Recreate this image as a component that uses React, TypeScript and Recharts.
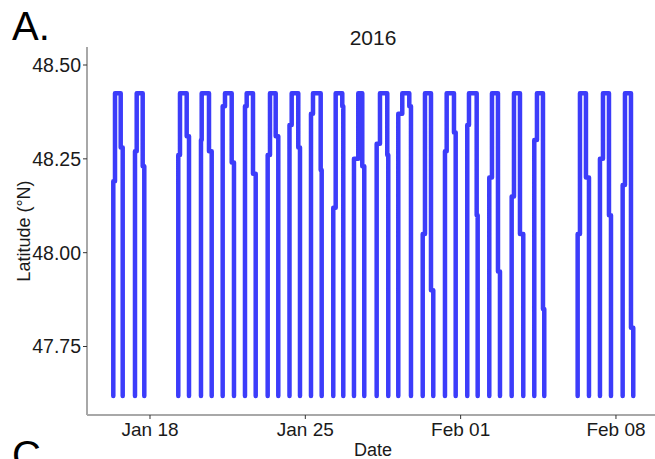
import { LineChart, Line, XAxis, YAxis } from 'recharts';

// one ferry round trip per day: times in days from Jan 0, 2016
const tripUpStart = [16.346, 17.324, 19.275, 20.298, 21.276, 22.281, 23.304, 24.287, 25.256, 26.26, 27.193, 28.216, 29.19, 30.291, 31.294, 32.299, 33.291, 34.3, 35.319, 37.274, 38.279, 39.302];
const tripUpTop = [16.423, 17.401, 19.352, 20.33, 21.38, 22.358, 23.408, 24.386, 25.346, 26.369, 27.387, 28.365, 29.37, 30.393, 31.371, 32.376, 33.412, 34.404, 35.44, 37.378, 38.415, 39.406];
const tripDownTop = [16.68, 17.671, 19.654, 20.659, 21.682, 22.642, 23.665, 24.683, 25.693, 26.666, 27.567, 28.694, 29.686, 30.664, 31.7, 32.723, 33.683, 34.674, 35.711, 37.648, 38.685, 39.677];
const tripDownEnd = [16.77, 17.743, 19.758, 20.781, 21.785, 22.764, 23.782, 24.76, 25.738, 26.711, 27.657, 28.739, 29.762, 30.767, 31.777, 32.768, 33.773, 34.823, 35.769, 37.784, 38.776, 39.78];

// latitude where each leg steps over in time
const upStepLat = [48.19, 48.27, 48.26, 48.3, 48.39, 48.39, 48.26, 48.34, 48.37, 48.12, 48.25, 48.29, 48.37, 48.05, 48.27, 48.34, 48.2, 48.15, 48.3, 48.05, 48.25, 48.18];
const downStepLat = [48.28, 48.23, 48.31, 48.27, 48.24, 48.21, 48.31, 48.28, 48.22, 48.39, 48.23, 48.26, 48.39, 47.9, 48.32, 48.1, 47.95, 48.05, 47.85, 48.2, 48.1, 47.8];

const southLat = 47.618;
const northLat = 48.425;

const dateTicks = [18, 25, 32, 39];
const dateLabels = ['Jan 18', 'Jan 25', 'Feb 01', 'Feb 08'];
const latTicks = [47.75, 48.0, 48.25, 48.5];

type Row = { t: number; lat: number | null };

const track: Row[] = [];
tripUpStart.forEach((start, i) => {
  track.push(
    { t: start, lat: southLat },
    { t: start, lat: upStepLat[i] },
    { t: tripUpTop[i], lat: upStepLat[i] },
    { t: tripUpTop[i], lat: northLat },
    { t: tripDownTop[i], lat: northLat },
    { t: tripDownTop[i], lat: downStepLat[i] },
    { t: tripDownEnd[i], lat: downStepLat[i] },
    { t: tripDownEnd[i], lat: southLat },
    { t: tripDownEnd[i], lat: null },
  );
});

const font = '"Liberation Sans", Arial, sans-serif';
const axisGrey = '#a8a8a8';
const textDark = '#1a1a1a';

export default function App() {
  return (
    <div
      style={{
        position: 'absolute',
        left: 0,
        top: 0,
        width: 655,
        height: 459,
        overflow: 'hidden',
        background: '#fff',
        fontFamily: font,
      }}
    >
      <LineChart
        width={660}
        height={459}
        data={track}
        margin={{ top: 47, right: 1, bottom: 0, left: 0 }}
      >
        <XAxis
          dataKey="t"
          type="number"
          domain={[15.161, 40.94]}
          ticks={dateTicks}
          tickFormatter={(v: number) => dateLabels[dateTicks.indexOf(v)]}
          height={44}
          axisLine={{ stroke: axisGrey, strokeWidth: 2 }}
          tickLine={{ stroke: '#333' }}
          tickSize={4}
          tickMargin={4}
          tick={{ fill: textDark, fontSize: 19, fontFamily: font }}
          label={{ value: 'Date', position: 'insideBottom', offset: 3, fill: textDark, fontSize: 18, fontFamily: font }}
        />
        <YAxis
          type="number"
          domain={[47.5675, 48.548]}
          ticks={latTicks}
          tickFormatter={(v: number) => v.toFixed(2)}
          width={87}
          axisLine={{ stroke: axisGrey, strokeWidth: 2 }}
          tickLine={{ stroke: '#333' }}
          tickSize={4}
          tickMargin={2}
          tick={{ fill: textDark, fontSize: 19.5, fontFamily: font }}
          label={{
            value: 'Latitude (°N)',
            angle: -90,
            position: 'insideLeft',
            offset: 24,
            fill: textDark,
            fontSize: 18,
            fontFamily: font,
            style: { textAnchor: 'middle' },
          }}
        />
        <Line
          dataKey="lat"
          stroke="#3c3cfa"
          strokeWidth={4.5}
          strokeLinecap="round"
          strokeLinejoin="round"
          dot={false}
          activeDot={false}
          connectNulls={false}
          isAnimationActive={false}
        />
        <text x={373} y={45} textAnchor="middle" fontSize={21} fill={textDark} fontFamily={font}>
          2016
        </text>
        <text x={12} y={40} fontSize={40} fill="#000" fontFamily={font}>
          A.
        </text>
        <text x={12} y={469} fontSize={40} fill="#000" fontFamily={font}>
          C
        </text>
      </LineChart>
    </div>
  );
}
